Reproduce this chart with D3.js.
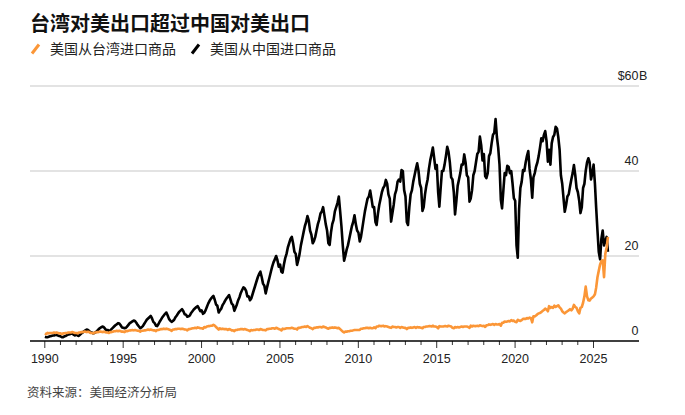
<!DOCTYPE html>
<html><head><meta charset="utf-8">
<script src="https://cdn.jsdelivr.net/npm/d3@7"></script>
<style>body{margin:0;background:#fff} svg{display:block}</style>
</head><body><svg id="c" width="685" height="415"></svg>
<script>
const startYear = 1990;
const title = "台湾对美出口超过中国对美出口";
const seriesNames = ["美国从台湾进口商品", "美国从中国进口商品"];
const source = "资料来源：美国经济分析局";
const yTicks = [0, 20, 40, 60];
const xTickYears = d3.range(1990, 2026);

// US imports of goods from China, monthly, $B (Jan 1990 - Dec 2025)
const chinaImports = [
 1.0,0.9,0.9,1.0,1.1,1.2,1.3,1.3,1.4,1.4,1.3,1.2,
 1.1,0.9,0.9,1.1,1.2,1.4,1.5,1.6,1.7,1.7,1.5,1.3,
 1.5,1.3,1.2,1.5,1.8,2.0,2.3,2.5,2.7,2.6,2.3,2.0,
 2.0,1.8,1.9,2.1,2.4,2.7,3.0,3.2,3.4,3.3,2.9,2.5,
 2.6,2.4,2.5,2.8,3.1,3.4,3.7,3.9,4.2,4.1,3.7,3.2,
 3.1,3.0,3.1,3.4,3.8,4.2,4.4,4.6,4.8,4.7,4.3,3.8,
 3.4,3.0,3.2,3.5,4.0,4.5,5.0,5.3,5.6,5.9,5.3,4.5,
 4.2,3.6,3.5,4.0,4.6,5.1,5.6,6.0,6.4,6.7,6.0,5.2,
 4.8,4.5,4.7,5.0,5.6,6.0,6.5,6.9,7.2,7.5,7.0,6.3,
 6.2,5.7,5.8,6.0,6.6,7.0,7.4,7.7,8.0,8.2,7.6,7.0,
 7.2,6.4,6.6,7.2,8.0,8.8,9.4,9.9,10.3,10.6,9.7,8.6,
 8.3,6.7,7.2,7.6,8.4,8.9,9.5,10.0,10.4,10.8,9.8,8.8,
 8.5,7.1,7.8,8.6,9.6,10.3,11.3,12.0,12.6,12.4,11.8,10.5,
 10.5,9.6,10.0,11.0,12.0,13.0,14.0,15.0,15.8,16.3,15.0,13.5,
 13.0,11.2,12.5,13.8,15.0,16.3,17.5,18.5,19.2,20.0,19.0,17.5,
 18.0,16.3,16.1,18.0,19.5,20.5,22.0,23.0,24.0,24.5,23.0,21.0,
 20.5,17.9,19.0,20.5,22.5,24.0,25.5,27.0,28.0,29.4,28.3,26.0,
 25.0,23.0,23.5,24.5,26.0,27.5,28.5,30.0,30.5,31.5,29.5,27.5,
 26.0,23.0,22.6,25.5,27.5,28.5,30.5,31.5,32.5,34.0,30.5,27.0,
 22.5,18.9,20.0,21.5,22.5,24.0,25.5,27.0,28.0,29.6,27.5,26.0,
 25.5,23.4,24.5,26.5,28.5,30.5,32.0,33.5,34.0,35.4,33.5,31.5,
 31.5,28.0,27.3,30.0,32.0,33.5,35.0,36.0,36.5,37.9,37.0,34.5,
 33.5,28.1,30.0,32.0,34.5,35.5,37.5,38.0,37.5,40.2,40.0,35.5,
 34.0,28.0,27.3,31.5,34.5,35.5,37.5,39.0,40.5,41.8,40.0,37.0,
 36.0,30.6,31.5,34.5,36.5,38.0,40.5,42.5,44.0,45.5,43.0,40.5,
 41.4,35.0,31.6,36.0,40.0,40.0,41.5,43.5,45.7,44.5,42.0,38.5,
 38.0,35.0,29.8,33.0,36.5,38.0,39.5,41.5,41.5,43.9,42.0,39.0,
 38.5,32.8,33.5,35.5,39.0,40.0,42.0,44.0,44.5,48.1,46.0,42.5,
 44.0,38.8,38.3,39.5,43.5,44.2,46.5,48.5,49.0,52.2,48.0,45.5,
 41.5,33.2,31.2,35.5,39.5,39.0,41.2,41.0,39.5,40.0,37.0,33.6,
 33.0,22.5,19.6,31.0,36.0,37.5,40.2,40.0,42.0,43.5,44.7,40.5,
 38.0,33.7,38.5,39.5,41.0,42.0,43.5,45.5,47.7,47.0,48.5,49.4,
 47.0,42.2,45.0,41.5,46.5,48.0,48.5,50.4,50.0,48.0,45.0,39.0,
 37.0,33.5,30.4,32.0,34.0,34.5,36.3,38.0,39.5,41.4,39.0,36.0,
 35.0,33.0,30.1,31.5,36.0,37.0,40.0,42.0,43.0,42.0,38.0,39.5,
 41.5,37.0,31.5,26.0,21.0,19.2,24.0,26.0,22.5,23.5,24.5,21.0
];

// US imports of goods from Taiwan, monthly, $B (Jan 1990 - Dec 2025)
const taiwanImports = [
 1.8,1.6,1.9,1.8,1.9,1.9,1.9,2.0,1.9,2.0,1.9,1.8,
 1.8,1.6,1.8,1.8,1.9,1.9,2.0,2.0,2.0,2.1,2.0,1.9,
 1.9,1.8,2.0,2.0,2.1,2.1,2.2,2.2,2.1,2.2,2.1,1.9,
 1.9,1.8,2.0,2.0,2.1,2.1,2.2,2.2,2.1,2.2,2.1,2.0,
 2.0,1.9,2.1,2.1,2.2,2.3,2.3,2.4,2.3,2.4,2.3,2.2,
 2.2,2.1,2.4,2.3,2.4,2.5,2.5,2.6,2.5,2.6,2.5,2.4,
 2.4,2.2,2.4,2.4,2.5,2.5,2.6,2.7,2.6,2.7,2.6,2.5,
 2.5,2.3,2.6,2.6,2.7,2.8,2.8,2.9,2.8,2.9,2.8,2.7,
 2.6,2.4,2.7,2.7,2.8,2.8,2.9,2.9,2.8,2.9,2.8,2.7,
 2.7,2.5,2.8,2.8,2.9,3.0,3.0,3.1,3.0,3.2,3.1,3.0,
 3.0,2.9,3.3,3.2,3.4,3.5,3.5,3.6,3.6,3.8,3.6,3.3,
 3.0,2.7,3.0,2.8,2.9,2.8,2.8,2.8,2.6,2.8,2.7,2.5,
 2.5,2.3,2.6,2.6,2.7,2.7,2.8,2.8,2.7,2.8,2.7,2.6,
 2.5,2.3,2.6,2.5,2.6,2.6,2.7,2.7,2.6,2.8,2.7,2.6,
 2.6,2.5,2.8,2.8,2.9,2.9,3.0,3.0,2.9,3.1,3.0,2.8,
 2.7,2.5,2.9,2.8,2.9,3.0,3.0,3.0,3.0,3.1,3.0,2.9,
 2.9,2.7,3.1,3.1,3.2,3.3,3.3,3.4,3.3,3.5,3.3,3.1,
 3.0,2.8,3.1,3.1,3.2,3.2,3.3,3.3,3.2,3.4,3.3,3.2,
 3.0,2.9,3.1,3.1,3.2,3.1,3.2,3.1,3.0,3.1,2.8,2.5,
 2.2,2.0,2.2,2.2,2.3,2.3,2.4,2.4,2.5,2.6,2.6,2.6,
 2.6,2.6,2.9,2.9,3.0,3.0,3.1,3.1,3.0,3.1,3.0,3.0,
 3.2,3.0,3.4,3.4,3.6,3.5,3.5,3.6,3.4,3.5,3.4,3.3,
 3.2,3.1,3.4,3.3,3.3,3.2,3.3,3.3,3.1,3.3,3.2,3.1,
 3.1,2.8,3.1,3.1,3.2,3.1,3.2,3.3,3.1,3.3,3.2,3.2,
 3.1,3.0,3.3,3.3,3.4,3.4,3.5,3.5,3.4,3.6,3.4,3.4,
 3.3,3.0,3.5,3.4,3.4,3.4,3.5,3.5,3.4,3.6,3.5,3.4,
 3.1,3.0,3.3,3.2,3.3,3.2,3.3,3.4,3.3,3.4,3.4,3.4,
 3.3,3.1,3.6,3.4,3.6,3.5,3.5,3.6,3.5,3.7,3.6,3.5,
 3.6,3.3,3.7,3.7,3.9,3.8,3.9,4.0,3.8,4.0,3.9,3.9,
 4.0,3.6,4.3,4.3,4.6,4.5,4.6,4.7,4.6,4.9,4.7,4.8,
 4.5,4.4,5.0,4.8,4.7,4.9,5.2,5.2,5.2,5.4,5.3,5.5,
 5.4,4.4,5.8,5.8,6.0,6.3,6.5,6.6,6.8,7.1,7.3,7.6,
 7.4,7.0,8.2,7.8,8.0,7.8,8.3,8.0,8.2,8.4,7.9,7.6,
 7.0,6.7,6.5,6.8,7.0,7.2,7.5,7.2,7.6,8.5,8.0,7.8,
 7.0,6.5,7.8,8.0,9.0,10.5,12.8,10.5,9.6,9.5,10.0,10.2,
 10.5,11.0,12.5,15.0,16.5,18.0,18.8,19.0,15.0,20.5,22.0,24.5
];

const svg = d3.select("#c");
const latin = "'Liberation Sans', Arial, 'Noto Sans CJK SC', sans-serif";
const cjk = "'Noto Sans CJK SC', 'Liberation Sans', sans-serif";

const monthDate = i => new Date(startYear + Math.floor(i / 12), i % 12, 15);
const toPoints = arr => arr.map((v, i) => ({ date: monthDate(i), value: v }));

const x = d3.scaleTime()
  .domain([new Date(1990, 0, 1), new Date(2025, 0, 1)])
  .range([44.3, 593]);
const y = d3.scaleLinear().domain([0, 60]).range([341, 86]);
const left = 30, right = 639;

// title
svg.append("text").attr("x", 30).attr("y", 30.5)
  .attr("font-family", cjk).attr("font-weight", "bold").attr("font-size", 20)
  .attr("fill", "#111").text(title);

// legend
const legendItems = [
  { name: seriesNames[0], color: "#fb9637", x: 31 },
  { name: seriesNames[1], color: "#000", x: 191 }
];
legendItems.forEach(it => {
  svg.append("line").attr("x1", it.x + 1).attr("y1", 53.5).attr("x2", it.x + 8).attr("y2", 44.5)
    .attr("stroke", it.color).attr("stroke-width", 3).attr("stroke-linecap", "butt");
  svg.append("text").attr("x", it.x + 19).attr("y", 54)
    .attr("font-family", cjk).attr("font-size", 14).attr("fill", "#222").text(it.name);
});

// gridlines
const gridTicks = yTicks.filter(d => d > 0);
svg.append("g").selectAll("line").data(gridTicks).join("line")
  .attr("x1", left).attr("x2", right)
  .attr("y1", d => y(d)).attr("y2", d => y(d))
  .attr("stroke", "#dadada").attr("stroke-width", 1.3);

// y labels
const yl = svg.append("g").attr("font-family", latin).attr("font-size", 12.5).attr("fill", "#222");
yTicks.forEach(d => {
  const t = yl.append("text").attr("x", right - 0.5).attr("y", y(d) - 6.5).attr("text-anchor", "end");
  if (d === 60) {
    t.text("$60");
    yl.append("text").attr("x", right).attr("y", y(d) - 6.5).text("B");
  } else t.text(d);
});

// x axis
const minorAxis = d3.axisBottom(x)
  .tickValues(xTickYears.filter(yr => yr % 5 !== 0).map(yr => new Date(yr, 0, 1)))
  .tickSize(4).tickFormat("");
const majorAxis = d3.axisBottom(x)
  .tickValues(xTickYears.filter(yr => yr % 5 === 0).map(yr => new Date(yr, 0, 1)))
  .tickSize(7).tickPadding(6).tickFormat(d3.timeFormat("%Y"));
const gMinor = svg.append("g").attr("transform", "translate(0,341)").call(minorAxis);
const gMajor = svg.append("g").attr("transform", "translate(0,341)").call(majorAxis);
[gMinor, gMajor].forEach(g => {
  g.select(".domain").remove();
  g.selectAll(".tick line").attr("stroke", "#333").attr("stroke-width", 1);
});
gMajor.selectAll(".tick text").attr("font-family", latin).attr("font-size", 12.5).attr("fill", "#222");
svg.append("line").attr("x1", left).attr("x2", right).attr("y1", 341).attr("y2", 341)
  .attr("stroke", "#000").attr("stroke-width", 1.3);

// lines
const line = d3.line().x(d => x(d.date)).y(d => y(d.value)).curve(d3.curveLinear);
svg.append("path").datum(toPoints(chinaImports)).attr("d", line)
  .attr("fill", "none").attr("stroke", "#000").attr("stroke-width", 2.6).attr("stroke-linejoin", "round");
svg.append("path").datum(toPoints(taiwanImports)).attr("d", line)
  .attr("fill", "none").attr("stroke", "#fb9637").attr("stroke-width", 2.6).attr("stroke-linejoin", "round");

// source
svg.append("text").attr("x", 27).attr("y", 397)
  .attr("font-family", cjk).attr("font-size", 12.5).attr("fill", "#444").text(source);
</script>
</body></html>
